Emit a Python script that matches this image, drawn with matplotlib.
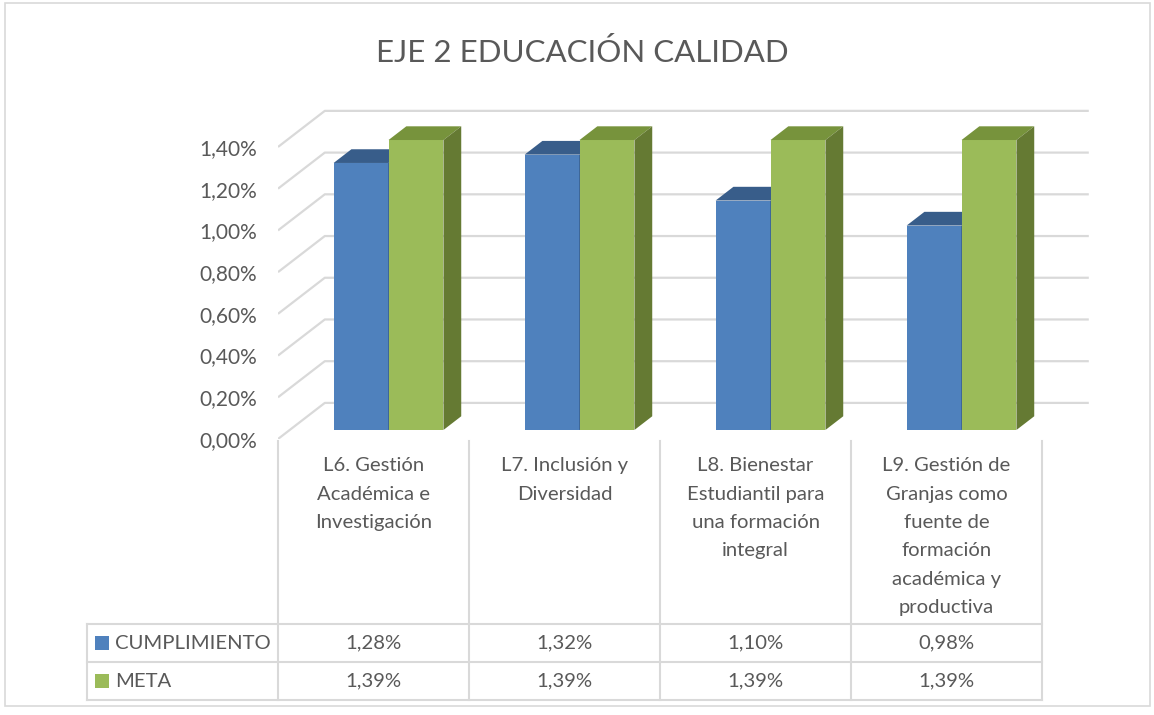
import matplotlib.pyplot as plt
from matplotlib.patches import Polygon, Rectangle

plt.rcParams['font.family'] = ['Lato', 'DejaVu Sans']

categories = [
    'L6. Gestión\nAcadémica e\nInvestigación',
    'L7. Inclusión y\nDiversidad',
    'L8. Bienestar\nEstudiantil para\nuna formación\nintegral',
    'L9. Gestión de\nGranjas como\nfuente de\nformación\nacadémica y\nproductiva',
]
series_names = ['CUMPLIMIENTO', 'META']
cumplimiento = [1.28, 1.32, 1.10, 0.98]
meta = [1.39, 1.39, 1.39, 1.39]
y_ticks = [0.0, 0.2, 0.4, 0.6, 0.8, 1.0, 1.2, 1.4]
title = 'EJE 2 EDUCACIÓN CALIDAD'

W, H = 1154, 715
TXT = '#595959'
GRID = '#D9D9D9'
colors = {
    'CUMPLIMIENTO': ('#4F81BD', '#385D8A', '#2C4A6E'),
    'META': ('#9BBB59', '#77933C', '#657A33'),
}

# oblique depth of the 3d box (category units, value units)
DX, DY = 0.245, 0.173
F0, F1 = 0.25, 0.63          # bar depth range as fraction of box depth
BAR_X0, BAR_W = 0.23, 0.2875  # bar position inside a category slot
SX, SY = 191.0, 208.6         # pixels per category / per 1 %
X0, Y0 = 278, 439             # pixel of front-left origin
FS = 14.6


def px_box(x0, y0, x1, y1):
    return [x0 / W, 1 - y1 / H, (x1 - x0) / W, (y1 - y0) / H]


def pct(v):
    return f'{v:.2f}%'.replace('.', ',')


def bar3d(ax, x, v, face, top, side):
    ox, oy = F0 * DX, F0 * DY
    ddx, ddy = (F1 - F0) * DX, (F1 - F0) * DY
    xl, xr = x + ox, x + BAR_W + ox
    ax.add_patch(Polygon([(xl, oy), (xr, oy), (xr, v + oy), (xl, v + oy)],
                         closed=True, facecolor=face, edgecolor='none', zorder=3))
    ax.add_patch(Polygon([(xl, v + oy), (xr, v + oy), (xr + ddx, v + oy + ddy), (xl + ddx, v + oy + ddy)],
                         closed=True, facecolor=top, edgecolor='none', zorder=3))
    ax.add_patch(Polygon([(xr, oy), (xr + ddx, oy + ddy), (xr + ddx, v + oy + ddy), (xr, v + oy)],
                         closed=True, facecolor=side, edgecolor='none', zorder=3))


fig = plt.figure(figsize=(W / 100, H / 100), dpi=100)
fig.patches.append(Rectangle((5 / W, 1 - 706 / H), 1145 / W, 703 / H, transform=fig.transFigure,
                             fill=False, edgecolor=GRID, lw=1.2))

fig.text(582 / W, 1 - 52 / H, title, ha='center', va='center', fontsize=22.5, color=TXT)

# plot area
ymax = 1.6
xmax = 4 + DX
ax = fig.add_axes(px_box(X0, Y0 - ymax * SY, X0 + xmax * SX, Y0))
ax.set_xlim(0, xmax)
ax.set_ylim(0, ymax)
for s in ax.spines.values():
    s.set_visible(False)
ax.set_xticks([])
ax.set_yticks(y_ticks)
ax.set_yticklabels([pct(v) for v in y_ticks], fontsize=15, color=TXT)
ax.tick_params(axis='y', length=0, pad=15)

for v in y_ticks:
    ax.plot([0, DX, 4 + DX], [v, v + DY, v + DY], color=GRID, lw=1.6, zorder=1,
            solid_capstyle='butt')

for i in range(len(categories)):
    for j, (name, vals) in enumerate(zip(series_names, [cumplimiento, meta])):
        face, top, side = colors[name]
        bar3d(ax, i + BAR_X0 + j * BAR_W, vals[i], face, top, side)

# data table
ROW = 38.0
HEAD = (624 - 441) / ROW
tax = fig.add_axes(px_box(X0 - SX, 441, X0 + 4 * SX, 441 + HEAD * ROW + 2 * ROW))
tax.set_xlim(-1, 4)
tax.set_ylim(HEAD + 2, 0)
tax.axis('off')

lw = 1.5
for k in range(5):
    tax.plot([k, k], [0, HEAD + 2], color=GRID, lw=lw, clip_on=False)
tax.plot([-1, -1], [HEAD, HEAD + 2], color=GRID, lw=lw, clip_on=False)
for r in range(3):
    tax.plot([-1, 4], [HEAD + r, HEAD + r], color=GRID, lw=lw, clip_on=False)

for i, lab in enumerate(categories):
    tax.text(i + 0.5, 0.43, lab, ha='center', va='top', fontsize=FS, color=TXT,
             linespacing=1.81)

for r, (name, vals) in enumerate(zip(series_names, [cumplimiento, meta])):
    yc = HEAD + r + 0.5
    tax.add_patch(Rectangle((-1 + 8 / SX, yc - 7 / ROW), 14 / SX, 14 / ROW,
                            facecolor=colors[name][0], edgecolor='none', clip_on=False))
    tax.text(-1 + 28 / SX, yc, name, ha='left', va='center', fontsize=FS, color=TXT)
    for i, v in enumerate(vals):
        tax.text(i + 0.5, yc, pct(v), ha='center', va='center', fontsize=FS, color=TXT)

fig.savefig('out.png', dpi=100)
